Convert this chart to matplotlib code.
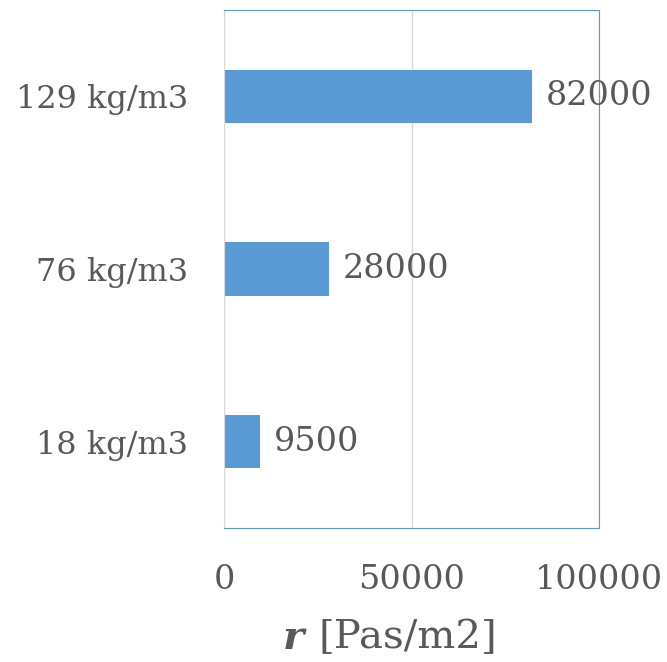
import matplotlib.pyplot as plt

categories = ['18 kg/m3', '76 kg/m3', '129 kg/m3']
resistance = [9500, 28000, 82000]
xticks = [0, 50000, 100000]

bar_color = '#5B9BD5'
text_color = '#595959'
plt.rcParams['font.family'] = 'DejaVu Serif'

fig = plt.figure(figsize=(6.67, 6.62), dpi=100)
ax = fig.add_axes([224 / 667, 1 - 528 / 662, 375 / 667, 518 / 662])

y = range(len(categories))
ax.barh(y, resistance, height=0.31, color=bar_color, zorder=2)
for yi, v in zip(y, resistance):
    ax.annotate(str(v), (v, yi), xytext=(10, 0), textcoords='offset points',
                va='center', ha='left', fontsize=24, color=text_color,
                annotation_clip=False)

ax.set_xlim(0, 100000)
ax.set_ylim(-0.5, len(categories) - 0.5)
ax.set_xticks(xticks)
ax.set_xticklabels([str(t) for t in xticks])
ax.set_yticks(list(y))
ax.set_yticklabels(categories)
ax.tick_params(axis='x', length=0, pad=26, labelsize=24, labelcolor=text_color)
ax.tick_params(axis='y', length=0, pad=26, labelsize=23, labelcolor=text_color)

ax.grid(axis='x', color='#d9d9d9', linewidth=1, zorder=0)
for side in ['top', 'right', 'bottom']:
    ax.spines[side].set_color(bar_color)
ax.spines['left'].set_color('#d9d9d9')

# axis title: bold italic symbol followed by the unit
fig.text(408 / 667, 1 - 638 / 662, '[Pas/m2]', fontsize=29, color=text_color,
         ha='center', va='center')
fig.text(293 / 667, 1 - 638 / 662, 'r', fontsize=29, color=text_color,
         ha='center', va='center', fontweight='bold', fontstyle='italic')

fig.savefig('out.png', dpi=100)
